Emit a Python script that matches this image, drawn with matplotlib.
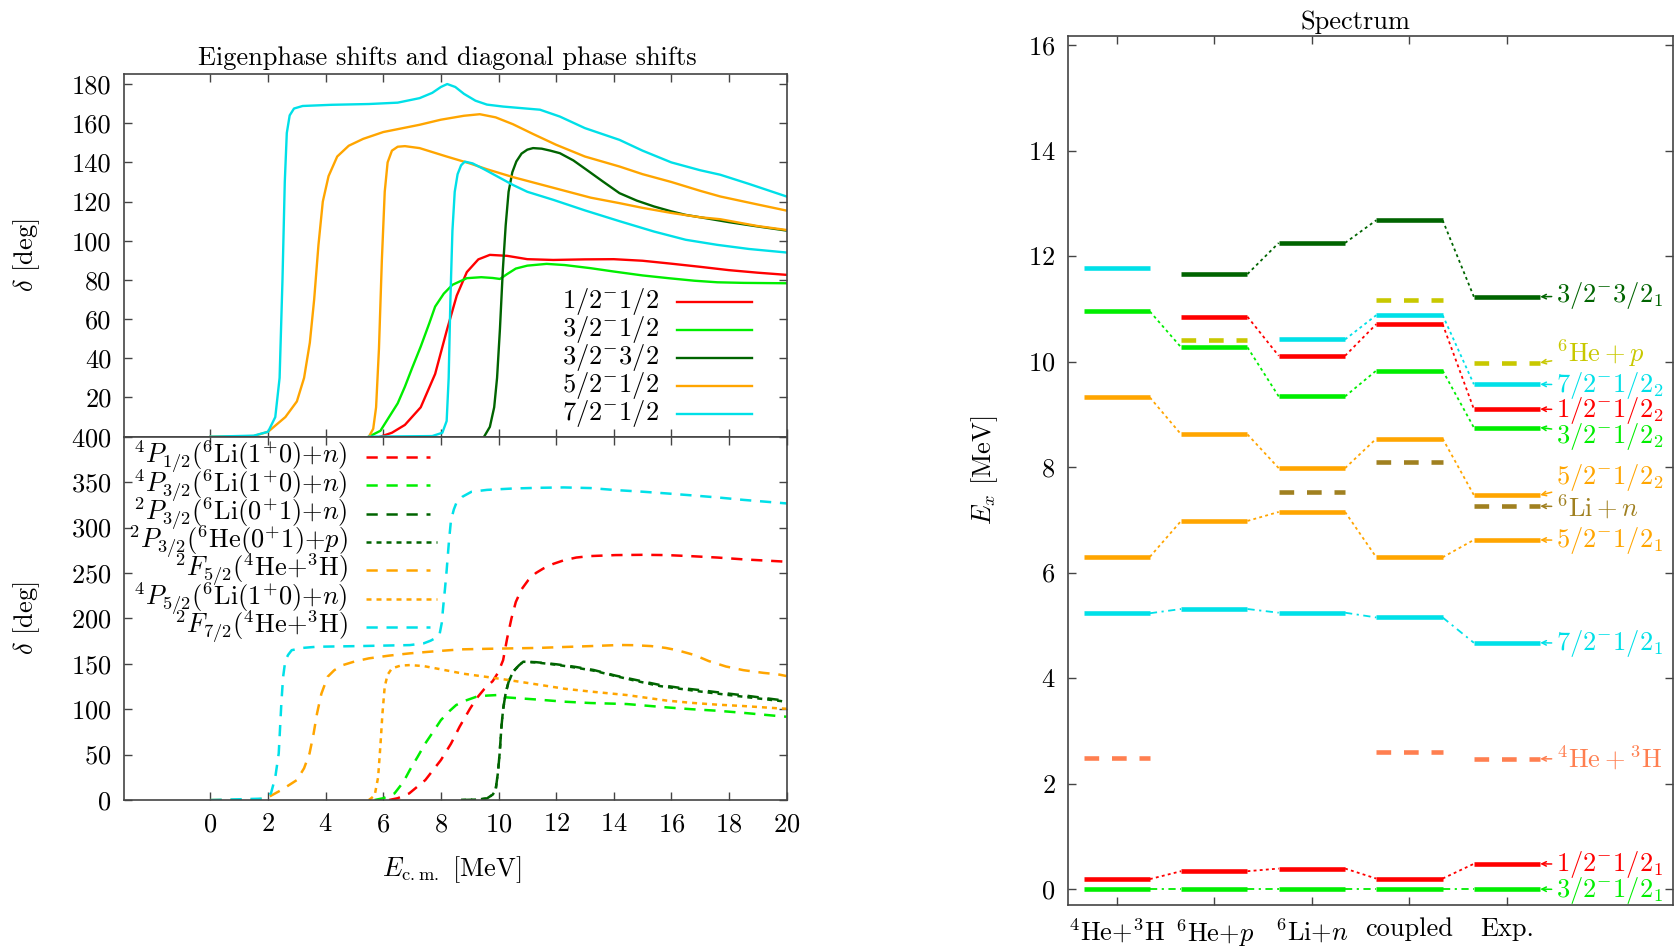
import matplotlib
matplotlib.use("Agg")
import matplotlib.pyplot as plt

FS = 19

plt.rcParams.update({
    "font.family": "serif",
    "font.serif": ["cmr10"],
    "mathtext.fontset": "cm",
    "axes.formatter.use_mathtext": True,
    "font.size": FS,
    "axes.linewidth": 1.2,
    "axes.edgecolor": "#444444",
})

RED = "#ff0000"
GREEN = "#00ee00"
DKGREEN = "#006400"
ORANGE = "#ffa500"
CYAN = "#00e0e8"
CORAL = "#ff7f50"
YELLOW = "#c8c800"
OLIVE = "#a08020"

# ---- eigenphase shifts (deg) vs E_cm (MeV) ----
e_12_12 = [5.9, 6.3, 6.75, 7.3, 7.8, 8.2, 8.55, 8.9, 9.3, 9.7, 10.3, 11.0, 11.9, 13.0, 14.0,
           15.0, 16.0, 17.0, 18.0, 19.0, 20.0]
d_12_12 = [0, 2, 6, 15, 32, 54, 72, 84, 90.5, 92.8, 92.3, 90.6, 90.2, 90.5, 90.6,
           89.8, 88.3, 86.7, 85, 83.7, 82.6]

e_32_12 = [5.5, 5.9, 6.2, 6.5, 6.75, 7.0, 7.3, 7.6, 7.8, 8.1, 8.4, 8.9, 9.4, 9.8, 10.05, 10.3,
           10.6, 11.0, 11.67, 12.3, 13.2, 14.0, 15.0, 15.9, 16.8, 17.6, 18.5, 20.0]
d_32_12 = [0, 3, 10, 17, 25.5, 35, 46, 58, 66.4, 73, 77.5, 80.9, 81.4, 81, 80.5, 83,
           85.8, 87.3, 88.2, 87.6, 86, 84.3, 82.3, 80.9, 79.6, 78.8, 78.5, 78.3]

e_32_32 = [9.5, 9.7, 9.85, 9.95, 10.05, 10.15, 10.25, 10.35, 10.48, 10.62, 10.8, 11.0, 11.2,
           11.5, 11.8, 12.13, 12.6, 13.06, 13.6, 14.2, 14.8, 15.4, 16.0, 16.5, 17.2, 18.0, 19.0, 20.0]
d_32_32 = [0, 5, 15, 30, 55, 85, 108, 125, 135, 140.5, 144.5, 146.5, 147.3,
           147.0, 146, 144.7, 141, 136.2, 130.5, 124.3, 120.5, 117.5, 115, 113.2, 111.5, 109.5, 107.3, 105.2]

e_52_12a = [0, 1.5, 2.0, 2.6, 3.0, 3.25, 3.45, 3.6, 3.75, 3.9, 4.1, 4.4, 4.8, 5.3, 6.0, 7.26,
            8.0, 8.8, 9.35, 9.9, 10.5, 11.2, 12.0, 13.0, 14.2, 15.0, 16.0, 17.0, 17.7, 19.0, 20.0]
d_52_12a = [0, 0.3, 2.5, 10, 18, 30, 48, 70, 98, 120, 133, 143, 148.5, 152, 155.5, 159.2,
            161.8, 163.8, 164.6, 163, 159.5, 154.5, 149, 143, 137.9, 134, 130, 125.5, 122.6, 118.5, 115.4]

e_52_12b = [5.5, 5.65, 5.75, 5.85, 5.95, 6.05, 6.15, 6.3, 6.5, 6.75, 7.26, 8.2, 9.0, 9.6, 10.5,
            11.4, 12.3, 13.2, 14.2, 15.0, 16.0, 17.0, 17.7, 19.0, 20.0]
d_52_12b = [0, 4, 15, 45, 90, 125, 140, 146, 148, 148.3, 147.3, 143, 139.5, 136.5, 132.5,
            129, 125.5, 122, 119.2, 116.8, 114.2, 112, 111, 107.5, 105.5]

e_72_12a = [0, 1.5, 2.0, 2.25, 2.4, 2.5, 2.58, 2.65, 2.75, 2.9, 3.2, 4.2, 5.5, 6.5, 7.26, 7.7,
            8.0, 8.22, 8.5, 8.8, 9.2, 9.6, 10.16, 10.8, 11.44, 12.13, 13.0, 14.2, 15.0, 16.0,
            17.0, 17.7, 18.7, 20.0]
d_72_12a = [0, 0.5, 2.5, 10, 30, 80, 130, 155, 164, 167.5, 168.8, 169.4, 169.8, 170.5, 172.8, 175.5,
            178.5, 180, 178.5, 175, 171.5, 169.5, 168.5, 167.7, 166.9, 163.4, 157.5, 151.5, 146, 140,
            136, 133.7, 129, 122.6]

e_72_12b = [5.5, 7.7, 8.05, 8.2, 8.27, 8.33, 8.4, 8.48, 8.58, 8.7, 8.83, 9.1, 9.5, 10.0, 10.5,
            11.0, 11.9, 13.0, 14.2, 15.4, 16.5, 17.6, 18.7, 20.0]
d_72_12b = [0, 0.3, 2, 8, 30, 70, 105, 125, 134, 138.5, 140.4, 139.5, 136.5, 132.5, 128.5,
            125, 120.9, 115.5, 110, 104.7, 100.5, 97.9, 95.8, 94]

# ---- diagonal phase shifts (deg) ----
e_4p12 = [6.2, 6.5, 6.9, 7.46, 8.0, 8.35, 8.65, 9.0, 9.24, 9.5, 9.8, 9.98, 10.16, 10.3, 10.45,
          10.6, 10.8, 11.03, 11.3, 11.56, 11.9, 12.27, 12.7, 13.17, 14.06, 15.0, 15.84, 16.7,
          17.6, 18.5, 20.0]
d_4p12 = [0, 2, 7.3, 22, 44, 62, 80.7, 100, 112, 122, 131, 140, 154, 178, 200,
          218, 232, 242, 250, 255, 260, 264, 267, 268.6, 269.7, 270, 269.7, 268.5,
          267, 265, 262.4]

e_4p32 = [5.7, 6.0, 6.39, 6.7, 6.92, 7.2, 7.46, 7.75, 8.0, 8.3, 8.53, 8.9, 9.24, 9.6, 9.96,
          10.28, 11.4, 12.27, 13.2, 14.45, 15.84, 16.7, 17.6, 18.5, 19.7, 20.0]
d_4p32 = [0, 2, 7.3, 20, 33, 48, 62.4, 76, 88, 98, 104.6, 110, 113.8, 115, 115.6,
          113, 110.5, 108.3, 106.8, 105.7, 102, 100, 98.3, 96, 92.5, 91.7]

e_2p32 = [8.7, 9.3, 9.6, 9.8, 9.9, 9.98, 10.04, 10.1, 10.16, 10.25, 10.35, 10.5, 10.7, 10.86,
          11.3, 12.0, 12.63, 13.3, 14.06, 14.8, 15.6, 16.3, 17.0, 17.9, 18.7, 19.8, 20.0]
d_2p32_li = [0, 0.5, 1.8, 6, 11, 30, 51.4, 80, 100, 118, 130, 141, 148, 152.3,
             151.8, 149.5, 146.8, 143.2, 137, 132, 126.7, 123.5, 121, 117.5, 114.5, 110, 109.5]
d_2p32_he = [0, 0.5, 1.8, 6, 11, 30, 51.4, 80, 100, 118, 130, 141, 148, 152.3,
             151.5, 149, 146, 142.5, 136.5, 131, 125.5, 122.5, 119.5, 116, 113, 109, 108]

e_2f52 = [0, 1.5, 1.93, 2.46, 3.0, 3.25, 3.44, 3.58, 3.7, 3.85, 4.07, 4.3, 4.6, 5.0, 5.5, 6.2,
          6.92, 7.8, 8.7, 9.6, 10.49, 11.4, 12.27, 13.2, 14.2, 14.7, 15.3, 15.8, 16.2, 16.8,
          17.3, 17.9, 18.5, 19.2, 19.7, 20.0]
d_2f52 = [0, 0.3, 1.8, 11, 22, 35, 51.4, 73, 95.4, 117, 135.8, 143, 148.6, 152.5, 156, 159,
          161.5, 163.8, 165.9, 166.5, 167, 167.5, 168.5, 169.5, 170.7, 170.5, 169.5, 167.5, 165, 159.7,
          153, 147, 143, 140, 138.4, 136.5]

e_4p52 = [5.5, 5.7, 5.82, 5.9, 5.97, 6.05, 6.15, 6.3, 6.6, 6.92, 7.4, 8.0, 8.8, 9.6, 10.16,
          11.4, 12.3, 13.17, 14.45, 15.84, 16.7, 17.6, 18.5, 19.7, 20.0]
d_4p52 = [0, 5, 25, 60, 95, 125, 138, 145, 148, 148.6, 147.5, 143.9, 139, 135.5, 133,
          127, 122.5, 119.5, 115.6, 109.5, 107, 105, 103.5, 101, 100.5]

e_2f72 = [0, 1.8, 2.1, 2.25, 2.37, 2.46, 2.52, 2.6, 2.7, 2.82, 3.2, 3.7, 5.14, 6.92, 7.4, 7.64,
          7.85, 7.96, 8.03, 8.08, 8.14, 8.2, 8.28, 8.35, 8.45, 8.53, 8.75, 9.06, 9.6, 10.49, 11.4,
          12.27, 13.2, 14.06, 15.0, 15.84, 16.7, 17.6, 18.5, 20.0]
d_2f72 = [0, 1.5, 7.3, 25, 51.4, 106, 135, 154, 160, 165, 167.5, 168.8, 169.5, 170.6, 172.5, 175.4,
          179, 183.5, 195, 212.8, 232, 253, 285, 308, 320, 326.6, 334, 339.4, 341.5, 343, 343.8,
          344.2, 343.5, 341.3, 339.5, 337.6, 335.5, 333.2, 330.5, 326.6]

eig_labels = [r"$1/2^{-}1/2$", r"$3/2^{-}1/2$", r"$3/2^{-}3/2$", r"$5/2^{-}1/2$", r"$7/2^{-}1/2$"]
diag_labels = [
    r"${}^4P_{1/2}({}^6\mathrm{Li}(1^{+}0){+}n)$",
    r"${}^4P_{3/2}({}^6\mathrm{Li}(1^{+}0){+}n)$",
    r"${}^2P_{3/2}({}^6\mathrm{Li}(0^{+}1){+}n)$",
    r"${}^2P_{3/2}({}^6\mathrm{He}(0^{+}1){+}p)$",
    r"${}^2F_{5/2}({}^4\mathrm{He}{+}{}^3\mathrm{H})$",
    r"${}^4P_{5/2}({}^6\mathrm{Li}(1^{+}0){+}n)$",
    r"${}^2F_{7/2}({}^4\mathrm{He}{+}{}^3\mathrm{H})$",
]

# ---- spectrum: excitation energies (MeV) per model column ----
columns = [r"${}^4\mathrm{He}{+}{}^3\mathrm{H}$", r"${}^6\mathrm{He}{+}p$",
           r"${}^6\mathrm{Li}{+}n$", "coupled", "Exp."]
lvl_32_32_1 = [None, 11.66, 12.25, 12.68, 11.23]
lvl_72_12_2 = [11.77, None, 10.42, 10.88, 9.57]
lvl_12_12_2 = [None, 10.85, 10.11, 10.71, 9.10]
lvl_32_12_2 = [10.95, 10.27, 9.34, 9.83, 8.75]
lvl_52_12_2 = [9.32, 8.62, 7.98, 8.54, 7.47]
lvl_52_12_1 = [6.30, 6.98, 7.15, 6.29, 6.62]
lvl_72_12_1 = [5.23, 5.31, 5.24, 5.15, 4.67]
lvl_12_12_1 = [0.19, 0.34, 0.39, 0.20, 0.48]
lvl_32_12_1 = [0.0, 0.0, 0.0, 0.0, 0.0]
thr_he4_h3 = [2.48, None, None, 2.60, 2.47]
thr_he6_p = [None, 10.41, None, 11.16, 9.98]
thr_li6_n = [None, None, 7.52, 8.09, 7.26]

# label text and its vertical position next to the Exp. column
exp_labels = [
    (r"$3/2^{-}3/2_1$", 11.25), (r"${}^6\mathrm{He}+p$", 10.16), (r"$7/2^{-}1/2_2$", 9.55),
    (r"$1/2^{-}1/2_2$", 9.07), (r"$3/2^{-}1/2_2$", 8.58), (r"$5/2^{-}1/2_2$", 7.80),
    (r"${}^6\mathrm{Li}+n$", 7.24), (r"$5/2^{-}1/2_1$", 6.60), (r"$7/2^{-}1/2_1$", 4.65),
    (r"${}^4\mathrm{He}+{}^3\mathrm{H}$", 2.47), (r"$1/2^{-}1/2_1$", 0.46), (r"$3/2^{-}1/2_1$", -0.02),
]

DASH = (0, (4.5, 3.5))
DOT = (0, (2, 2))


def style_axes(ax):
    ax.tick_params(direction="in", length=6, width=1, top=True, right=True,
                   color="#444444", labelsize=FS, pad=9)


fig = plt.figure(figsize=(16.81, 9.47), dpi=100)
ax_up = fig.add_axes([0.0738, 0.5389, 0.3941, 0.3827])
ax_lo = fig.add_axes([0.0738, 0.1552, 0.3941, 0.3836])
ax_sp = fig.add_axes([0.6353, 0.0444, 0.3599, 0.9180])

# upper panel: eigenphases
eig_curves = [(e_12_12, d_12_12, RED), (e_32_12, d_32_12, GREEN), (e_32_32, d_32_32, DKGREEN),
              (e_52_12a, d_52_12a, ORANGE), (e_52_12b, d_52_12b, ORANGE),
              (e_72_12a, d_72_12a, CYAN), (e_72_12b, d_72_12b, CYAN)]
for e, d, c in eig_curves:
    ax_up.plot(e, d, color=c, lw=1.7)
ax_up.set_xlim(-3, 20)
ax_up.set_ylim(0, 185)
ax_up.set_xticks(range(0, 21, 2))
ax_up.set_xticklabels([])
ax_up.set_yticks(range(0, 181, 20), [""] + [str(v) for v in range(20, 181, 20)])
style_axes(ax_up)
ax_up.set_ylabel(r"$\delta$ [deg]")
ax_up.yaxis.set_label_coords(-0.124, 0.5)
ax_up.set_title("Eigenphase shifts and diagonal phase shifts", fontsize=FS, x=0.4875, pad=7)

for k, (lab, c) in enumerate(zip(eig_labels, [RED, GREEN, DKGREEN, ORANGE, CYAN])):
    y = 0.3725 - k * 0.0773
    ax_up.text(0.8075, y, lab, transform=ax_up.transAxes, ha="right", va="center", fontsize=FS)
    ax_up.plot([0.834, 0.948], [y, y], color=c, lw=1.7, transform=ax_up.transAxes)

# lower panel: diagonal phase shifts
diag_curves = [(e_4p12, d_4p12, RED, DASH), (e_4p32, d_4p32, GREEN, DASH),
               (e_2p32, d_2p32_li, DKGREEN, DASH), (e_2p32, d_2p32_he, DKGREEN, DOT),
               (e_2f52, d_2f52, ORANGE, DASH), (e_4p52, d_4p52, ORANGE, DOT),
               (e_2f72, d_2f72, CYAN, DASH)]
for e, d, c, ls in diag_curves:
    ax_lo.plot(e, d, color=c, lw=1.8, linestyle=ls)
ax_lo.set_xlim(-3, 20)
ax_lo.set_ylim(0, 400)
ax_lo.set_xticks(range(0, 21, 2))
ax_lo.set_yticks(range(0, 401, 50))
style_axes(ax_lo)
ax_lo.set_ylabel(r"$\delta$ [deg]")
ax_lo.yaxis.set_label_coords(-0.124, 0.5)
ax_lo.set_xlabel(r"$E_{\mathrm{c.m.}}$ [MeV]")
ax_lo.xaxis.set_label_coords(0.495, -0.15)

for k, (lab, (_, _, c, ls)) in enumerate(zip(diag_labels, diag_curves)):
    y = 0.944 - k * 0.0779
    ax_lo.text(0.338, y, lab, transform=ax_lo.transAxes, ha="right", va="center", fontsize=FS)
    x1 = 0.472 if ls == DOT else 0.462
    ax_lo.plot([0.365, x1], [y, y], color=c, lw=1.8, linestyle=ls, transform=ax_lo.transAxes)

# right panel: level scheme
HW = 0.34
SOLID_BAR = dict(lw=3.3, solid_capstyle="butt")
DOTTED = (0, (1.6, 1.8))
DASHDOT = (0, (4, 2.5, 1.2, 2.5))

levels = [(lvl_32_32_1, DKGREEN, DOTTED), (lvl_72_12_2, CYAN, DOTTED),
          (lvl_12_12_2, RED, DOTTED), (lvl_32_12_2, GREEN, DOTTED),
          (lvl_52_12_2, ORANGE, DOTTED), (lvl_52_12_1, ORANGE, DOTTED),
          (lvl_72_12_1, CYAN, DASHDOT), (lvl_12_12_1, RED, DOTTED),
          (lvl_32_12_1, GREEN, DASHDOT)]
for vals, c, cls in levels:
    for i, v in enumerate(vals):
        if v is None:
            continue
        x = i + 1
        ax_sp.plot([x - HW, x + HW], [v, v], color=c, **SOLID_BAR)
        if i + 1 < len(vals) and vals[i + 1] is not None:
            ax_sp.plot([x + HW, x + 1 - HW], [v, vals[i + 1]], color=c, lw=1.3, linestyle=cls)

thresholds = [(thr_he4_h3, CORAL), (thr_he6_p, YELLOW), (thr_li6_n, OLIVE)]
for vals, c in thresholds:
    for i, v in enumerate(vals):
        if v is not None:
            ax_sp.plot([i + 1 - HW, i + 1 + HW], [v, v], color=c, lw=3.3,
                       linestyle=(0, (3.2, 2.8)), solid_capstyle="butt")

exp_values = [lvl_32_32_1[4], thr_he6_p[4], lvl_72_12_2[4], lvl_12_12_2[4], lvl_32_12_2[4],
              lvl_52_12_2[4], thr_li6_n[4], lvl_52_12_1[4], lvl_72_12_1[4], thr_he4_h3[4],
              lvl_12_12_1[4], lvl_32_12_1[4]]
exp_colors = [DKGREEN, YELLOW, CYAN, RED, GREEN, ORANGE, OLIVE, ORANGE, CYAN, CORAL, RED, GREEN]
for (lab, ty), v, c in zip(exp_labels, exp_values, exp_colors):
    ax_sp.annotate(lab, xy=(5 + HW, v), xytext=(5.5, ty), color=c, fontsize=FS,
                   ha="left", va="center", annotation_clip=False,
                   arrowprops=dict(arrowstyle="->", color=c, lw=1.1, shrinkA=1, shrinkB=0,
                                   mutation_scale=8))

ax_sp.set_xlim(0.5, 6.7)
ax_sp.set_ylim(-0.3, 16.18)
ax_sp.set_xticks(range(1, 6), columns)
ax_sp.set_yticks(range(0, 17, 2))
style_axes(ax_sp)
ax_sp.tick_params(axis="x", pad=9)
ax_sp.set_ylabel(r"$E_x$ [MeV]")
ax_sp.yaxis.set_label_coords(-0.112, 0.5)
ax_sp.set_title("Spectrum", fontsize=FS, x=0.476, pad=5)

fig.savefig("out.png", dpi=100)
